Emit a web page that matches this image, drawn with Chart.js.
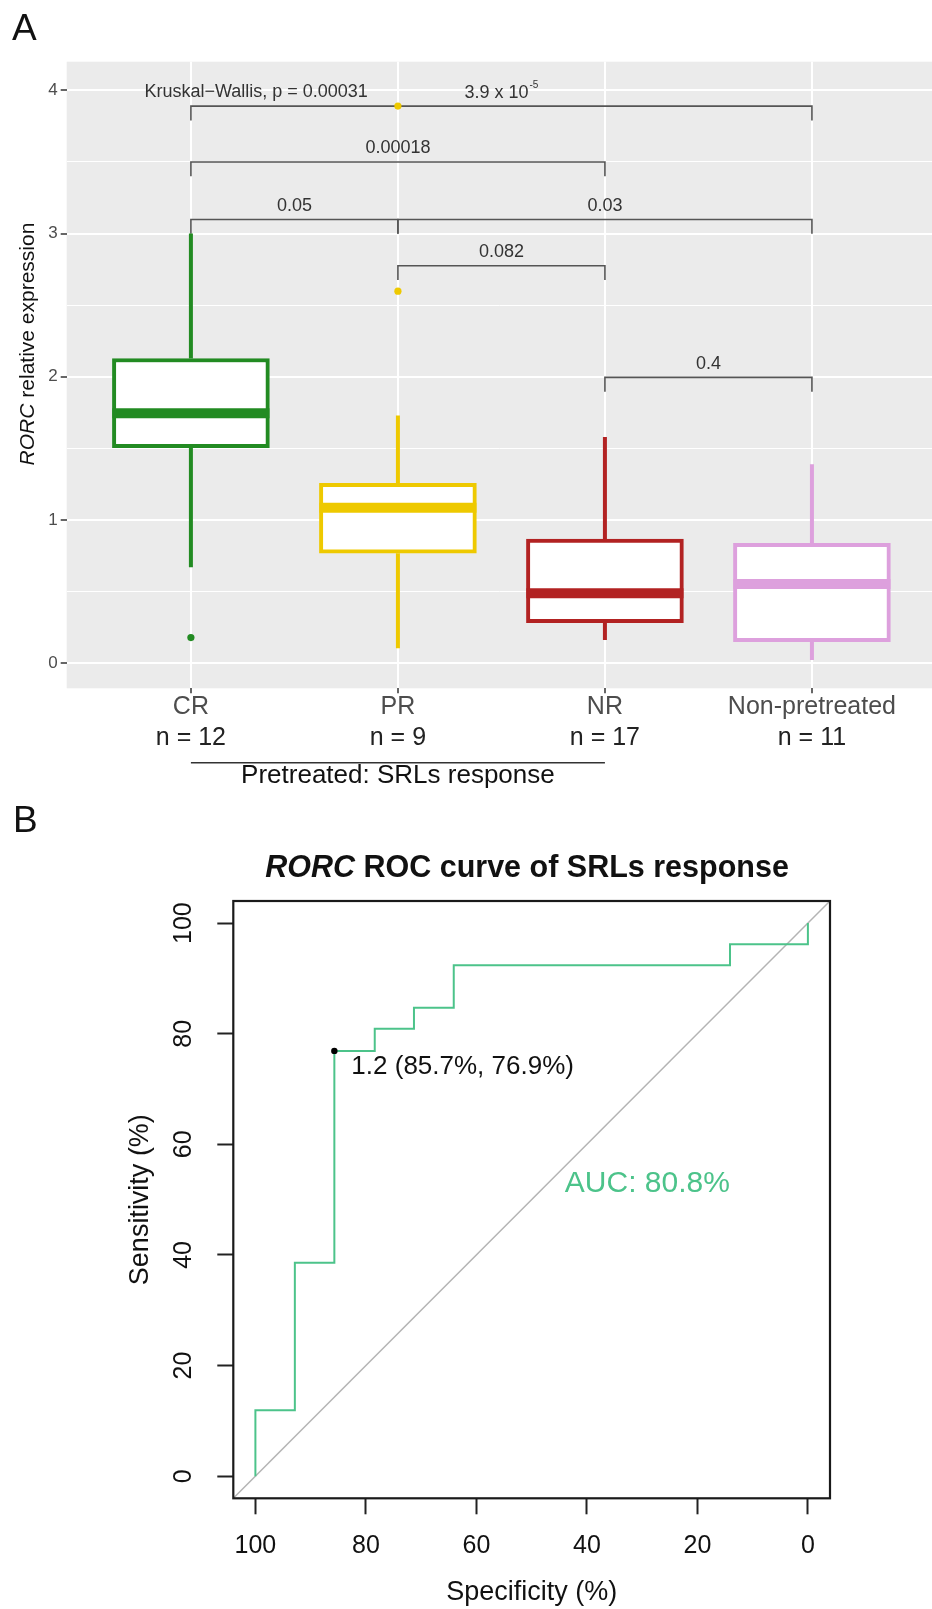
<!DOCTYPE html>
<html><head><meta charset="utf-8">
<script src="https://cdn.jsdelivr.net/npm/chart.js@4.4.1/dist/chart.umd.min.js"></script>
<style>
html,body{margin:0;padding:0;background:#fff;}
#wrap{position:relative;width:932px;height:1609px;overflow:hidden;background:#fff;}
#cA{position:absolute;left:0;top:0;}
#cB{position:absolute;left:0;top:790px;}
</style></head><body>
<div id="wrap"><canvas id="cA" width="932" height="790"></canvas><canvas id="cB" width="932" height="819"></canvas></div>
<script>
// ---------------- Panel A data ----------------
const groups = ['CR', 'PR', 'NR', 'Non-pretreated'];
const groupN = ['n = 12', 'n = 9', 'n = 17', 'n = 11'];
const q1 = [1.505, 0.768, 0.283, 0.151];
const median = [1.745, 1.086, 0.488, 0.553];
const q3 = [2.128, 1.256, 0.867, 0.837];
const whiskerLow = [0.67, 0.105, 0.163, 0.023];
const whiskerHigh = [3.0, 1.73, 1.58, 1.39];
const outlierGroup = [0, 1, 1];
const outlierValue = [0.179, 2.598, 3.89];
const bracketFrom = [0, 0, 0, 1, 1, 2];
const bracketTo = [3, 2, 1, 3, 2, 3];
const bracketY = [3.89, 3.50, 3.098, 3.098, 2.775, 1.996];
const bracketLabel = ['3.9 x 10', '0.00018', '0.05', '0.03', '0.082', '0.4'];
const bracketSup = ['-5', '', '', '', '', ''];
const yTicksA = [0, 0.5, 1, 1.5, 2, 2.5, 3, 3.5, 4];
const yTickLabelsA = ['0', '', '1', '', '2', '', '3', '', '4'];
const kwLabel = 'Kruskal\u2212Wallis, p = 0.00031';
const pretreatedLabel = 'Pretreated: SRLs response';
const yTitleA = ['RORC', ' relative expression'];

// ---------------- Panel B data ----------------
const rocSpec = [100, 100, 92.86, 92.86, 85.71, 85.71, 78.4, 78.4, 71.3, 71.3, 64.1, 64.1, 14.1, 14.1, 0, 0];
const rocSens = [0, 11.9, 11.9, 38.6, 38.6, 76.9, 76.9, 80.9, 80.9, 84.7, 84.7, 92.4, 92.4, 96.2, 96.2, 100];
const diagSpec = [104, -4];
const diagSens = [-4, 104];
const bestSpec = [85.71];
const bestSens = [76.9];
const bestLabel = '1.2 (85.7%, 76.9%)';
const aucLabel = 'AUC: 80.8%';
const rocTicks = [0, 20, 40, 60, 80, 100];
const rocTitle = ['RORC', ' ROC curve of SRLs response'];
const xTitleB = 'Specificity (%)';
const yTitleB = 'Sensitivity (%)';

// ---------------- styles ----------------
const FONT = '"Liberation Sans", Arial, Helvetica, sans-serif';
const boxColors = ['#228B22', '#EEC900', '#B22222', '#DDA0DD'];
const rocColor = '#4CC38A';
const kwPos = {x: 0.315, y: 3.99};
const aucPos = {x: 44, y: 52.8};

function txt(ctx, s, x, y, font, color, align, base) {
  ctx.save();
  ctx.font = font; ctx.fillStyle = color;
  ctx.textAlign = align || 'center'; ctx.textBaseline = base || 'middle';
  ctx.fillText(s, x, y);
  ctx.restore();
}
function noPad(s) { s.paddingLeft = 0; s.paddingRight = 0; s.paddingTop = 0; s.paddingBottom = 0; }

// ---------------- Panel A ----------------
const panelAPlugin = {
  id: 'panelA',
  beforeDraw(chart) {
    const {ctx, chartArea: a} = chart;
    ctx.save();
    ctx.fillStyle = '#EBEBEB';
    ctx.fillRect(a.left, a.top, a.right - a.left, a.bottom - a.top);
    ctx.restore();
  },
  afterDraw(chart) {
    const ctx = chart.ctx, xs = chart.scales.x, ys = chart.scales.y;
    // bracket labels
    bracketLabel.forEach((lab, i) => {
      const cx = xs.getPixelForValue((bracketFrom[i] + bracketTo[i]) / 2);
      const cy = ys.getPixelForValue(bracketY[i]) - 13.5;
      if (bracketSup[i]) {
        ctx.save();
        ctx.font = '18px ' + FONT;
        const w1 = ctx.measureText(lab).width;
        ctx.font = '10px ' + FONT;
        const w2 = ctx.measureText(bracketSup[i]).width;
        ctx.restore();
        const start = cx - (w1 + w2 + 1) / 2;
        txt(ctx, lab, start, cy, '18px ' + FONT, '#333', 'left');
        txt(ctx, bracketSup[i], start + w1 + 1, cy - 7, '10px ' + FONT, '#333', 'left');
      } else {
        txt(ctx, lab, cx, cy, '18px ' + FONT, '#333');
      }
    });
    // Kruskal-Wallis
    txt(ctx, kwLabel, xs.getPixelForValue(kwPos.x), ys.getPixelForValue(kwPos.y), '18px ' + FONT, '#333');
    // n labels
    groupN.forEach((s, i) => txt(ctx, s, xs.getPixelForValue(i), 738, '25px ' + FONT, '#222'));
    // pretreated line + label
    ctx.save();
    ctx.strokeStyle = '#333'; ctx.lineWidth = 1.6;
    ctx.beginPath();
    ctx.moveTo(xs.getPixelForValue(0), 762.7);
    ctx.lineTo(xs.getPixelForValue(2), 762.7);
    ctx.stroke();
    ctx.restore();
    txt(ctx, pretreatedLabel, xs.getPixelForValue(1), 776, '26px ' + FONT, '#111');
    // y title (italic RORC)
    ctx.save();
    ctx.translate(28, 344);
    ctx.rotate(-Math.PI / 2);
    ctx.textBaseline = 'middle'; ctx.fillStyle = '#111';
    ctx.font = 'italic 21px ' + FONT;
    const wa = ctx.measureText(yTitleA[0]).width;
    ctx.font = '21px ' + FONT;
    const wb = ctx.measureText(yTitleA[1]).width;
    let sx = -(wa + wb) / 2;
    ctx.textAlign = 'left';
    ctx.font = 'italic 21px ' + FONT;
    ctx.fillText(yTitleA[0], sx, 0);
    ctx.font = '21px ' + FONT;
    ctx.fillText(yTitleA[1], sx + wa, 0);
    ctx.restore();
    // panel letter
    txt(ctx, 'A', 12, 40, '37px ' + FONT, '#111', 'left', 'alphabetic');
  }
};

const dsA = [];
dsA.push({
  type: 'bar', label: 'box',
  data: groups.map((g, i) => ({x: i, y: [q1[i], q3[i]]})),
  backgroundColor: '#FFFFFF', borderColor: boxColors, borderWidth: 4,
  borderSkipped: false, barThickness: 157, order: 2
});
dsA.push({
  type: 'line', label: 'median', showLine: false,
  data: groups.map((g, i) => ({x: i, y: median[i]})),
  pointStyle: 'line', pointRadius: 78.5, pointHoverRadius: 78.5,
  pointBorderWidth: 10, pointHoverBorderWidth: 10,
  pointBorderColor: boxColors, pointBackgroundColor: boxColors, order: 1
});
groups.forEach((g, i) => {
  dsA.push({
    type: 'line', label: 'whisker ' + g,
    data: [{x: i, y: q3[i]}, {x: i, y: whiskerHigh[i]}, {x: i, y: null}, {x: i, y: q1[i]}, {x: i, y: whiskerLow[i]}],
    borderColor: boxColors[i], borderWidth: 4, pointRadius: 0, spanGaps: false, order: 3
  });
});
dsA.push({
  type: 'line', label: 'outliers', showLine: false,
  data: outlierValue.map((v, k) => ({x: outlierGroup[k], y: v})),
  pointRadius: 3.6, pointBorderWidth: 0,
  pointBackgroundColor: outlierGroup.map(g => boxColors[g]), order: 0
});
bracketLabel.forEach((lab, i) => {
  const tip = 0.1;
  dsA.push({
    type: 'line', label: 'bracket ' + lab,
    data: [{x: bracketFrom[i], y: bracketY[i] - tip}, {x: bracketFrom[i], y: bracketY[i]},
           {x: bracketTo[i], y: bracketY[i]}, {x: bracketTo[i], y: bracketY[i] - tip}],
    borderColor: '#555', borderWidth: 1.6, pointRadius: 0, order: 4
  });
});

new Chart(document.getElementById('cA'), {
  type: 'bar',
  data: {datasets: dsA},
  plugins: [panelAPlugin],
  options: {
    responsive: false, animation: false, devicePixelRatio: 1, events: [],
    layout: {autoPadding: false, padding: {top: 61.7, right: 0, left: 0, bottom: 0}},
    plugins: {legend: {display: false}, tooltip: {enabled: false}, title: {display: false}},
    scales: {
      x: {
        type: 'linear', min: -0.6, max: 3.58, offset: false,
        afterBuildTicks: s => { s.ticks = groups.map((g, i) => ({value: i})); },
        afterFit: s => { s.height = 101.7; noPad(s); },
        ticks: {callback: (v, i) => groups[i], font: {family: FONT, size: 25, lineHeight: 1.1}, color: '#4D4D4D', padding: 0, autoSkip: false, maxRotation: 0},
        grid: {offset: false, color: '#FFFFFF', lineWidth: 2, tickColor: '#333', tickLength: 5, tickWidth: 1.5},
        border: {display: false}
      },
      y: {
        type: 'linear', min: -0.175, max: 4.2,
        afterBuildTicks: s => { s.ticks = yTicksA.map(v => ({value: v})); },
        afterFit: s => { s.width = 66.7; noPad(s); },
        ticks: {callback: (v, i) => yTickLabelsA[i], font: {family: FONT, size: 17}, color: '#4D4D4D', padding: 3},
        grid: {
          color: '#FFFFFF',
          lineWidth: c => (yTickLabelsA[c.index] !== '' ? 2 : 1),
          tickColor: c => (yTickLabelsA[c.index] !== '' ? '#333' : 'rgba(0,0,0,0)'),
          tickLength: 6, tickWidth: 1.5
        },
        border: {display: false}
      }
    }
  }
});

// ---------------- Panel B ----------------
const panelBPlugin = {
  id: 'panelB',
  afterDraw(chart) {
    const ctx = chart.ctx, a = chart.chartArea, xs = chart.scales.x, ys = chart.scales.y;
    // frame
    ctx.save();
    ctx.strokeStyle = '#1a1a1a'; ctx.lineWidth = 2.2;
    ctx.strokeRect(a.left, a.top, a.right - a.left, a.bottom - a.top);
    ctx.restore();
    // y tick labels (rotated)
    rocTicks.forEach(v => {
      ctx.save();
      ctx.translate(184, ys.getPixelForValue(v));
      ctx.rotate(-Math.PI / 2);
      txt(ctx, String(v), 0, 0, '25px ' + FONT, '#111');
      ctx.restore();
    });
    // axis titles
    txt(ctx, xTitleB, (a.left + a.right) / 2, 803, '27px ' + FONT, '#111');
    ctx.save();
    ctx.translate(141, (a.top + a.bottom) / 2);
    ctx.rotate(-Math.PI / 2);
    txt(ctx, yTitleB, 0, 0, '27px ' + FONT, '#111');
    ctx.restore();
    // title
    ctx.save();
    ctx.fillStyle = '#111'; ctx.textBaseline = 'alphabetic'; ctx.textAlign = 'left';
    ctx.font = 'italic bold 30.5px ' + FONT;
    const w1 = ctx.measureText(rocTitle[0]).width;
    ctx.font = 'bold 30.5px ' + FONT;
    const w2 = ctx.measureText(rocTitle[1]).width;
    const sx = 527 - (w1 + w2) / 2;
    ctx.font = 'italic bold 30.5px ' + FONT;
    ctx.fillText(rocTitle[0], sx, 87);
    ctx.font = 'bold 30.5px ' + FONT;
    ctx.fillText(rocTitle[1], sx + w1, 87);
    ctx.restore();
    // threshold label
    const px = xs.getPixelForValue(bestSpec[0]), py = ys.getPixelForValue(bestSens[0]);
    txt(ctx, bestLabel, px + 17, py + 16, '26px ' + FONT, '#111', 'left');
    // AUC label
    txt(ctx, aucLabel, xs.getPixelForValue(aucPos.x), ys.getPixelForValue(aucPos.y), '30px ' + FONT, rocColor, 'left');
    // panel letter
    txt(ctx, 'B', 13, 42, '37px ' + FONT, '#111', 'left', 'alphabetic');
  }
};

new Chart(document.getElementById('cB'), {
  type: 'line',
  data: {
    datasets: [
      {label: 'diagonal', data: diagSpec.map((v, i) => ({x: v, y: diagSens[i]})), borderColor: '#B4B4B4', borderWidth: 1.5, pointRadius: 0, order: 3},
      {label: 'ROC', data: rocSpec.map((v, i) => ({x: v, y: rocSens[i]})), borderColor: rocColor, borderWidth: 2, pointRadius: 0, order: 2},
      {label: 'best', data: bestSpec.map((v, i) => ({x: v, y: bestSens[i]})), showLine: false, pointRadius: 3.2, pointBackgroundColor: '#000', pointBorderWidth: 0, order: 1}
    ]
  },
  plugins: [panelBPlugin],
  options: {
    responsive: false, animation: false, devicePixelRatio: 1, events: [],
    layout: {autoPadding: false, padding: {top: 111, right: 102, left: 0, bottom: 0}},
    plugins: {legend: {display: false}, tooltip: {enabled: false}, title: {display: false}},
    scales: {
      x: {
        type: 'linear', reverse: true, min: -4, max: 104,
        afterBuildTicks: s => { s.ticks = rocTicks.map(v => ({value: v})); },
        afterFit: s => { s.height = 110.7; noPad(s); },
        ticks: {font: {family: FONT, size: 25, lineHeight: 1.2}, color: '#111', padding: 17, autoSkip: false, maxRotation: 0},
        grid: {drawOnChartArea: false, tickLength: 16, tickColor: '#222', tickWidth: 2},
        border: {display: false}
      },
      y: {
        type: 'linear', min: -4, max: 104,
        afterBuildTicks: s => { s.ticks = rocTicks.map(v => ({value: v})); },
        afterFit: s => { s.width = 233.3; noPad(s); },
        ticks: {display: false},
        grid: {drawOnChartArea: false, tickLength: 16, tickColor: '#222', tickWidth: 2},
        border: {display: false}
      }
    }
  }
});
</script>
</body></html>
